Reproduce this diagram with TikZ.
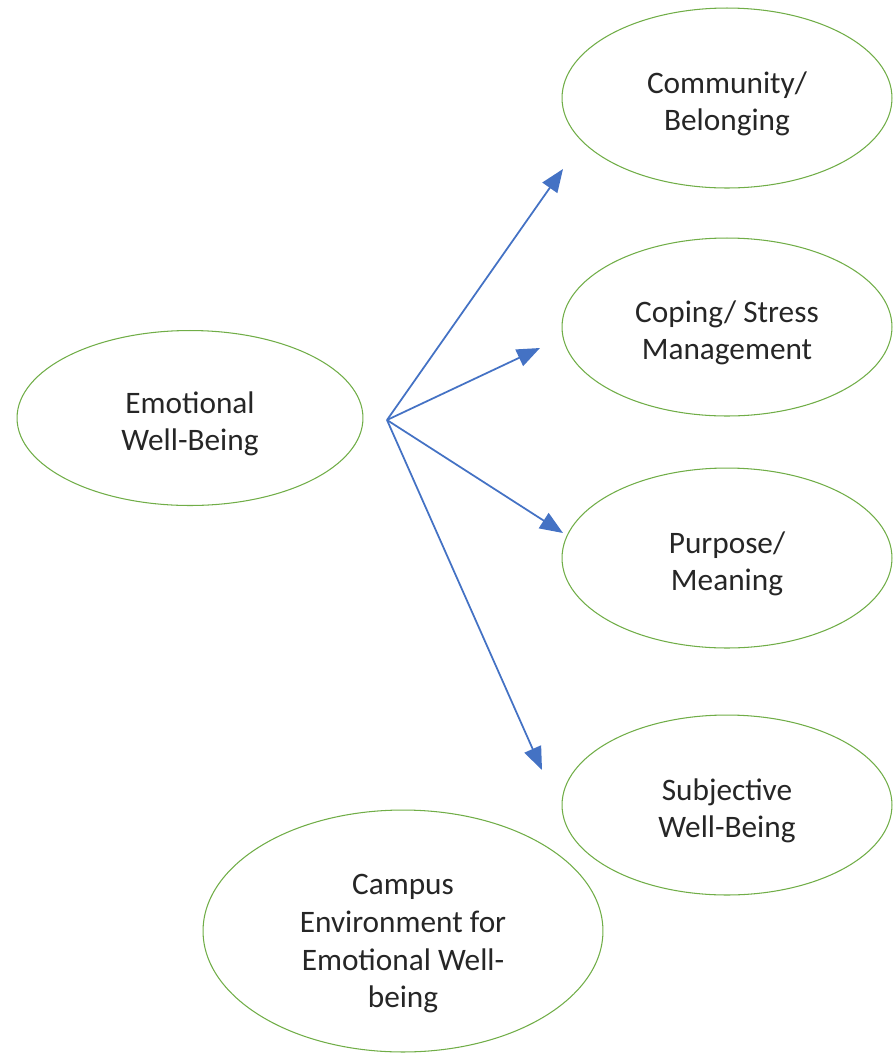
\documentclass[tikz,border=0pt]{standalone}
\usepackage{fontspec}
\setmainfont{Carlito}
\usetikzlibrary{shapes.geometric, arrows.meta}
\definecolor{ovalgreen}{HTML}{70AD47}
\definecolor{arrowblue}{HTML}{4472C4}
\newcommand{\textdrop}[1]{\rule{0pt}{#1}} % pushes the text of an oval a bit down

\begin{document}
\begin{tikzpicture}[
            x=0.02cm, y=-0.02cm, % one unit is one pixel, y downwards
            oval/.style={
                ellipse, % oval nodes
                draw=ovalgreen, % green border
                line width=0.6pt,
                inner sep=0,
                align=center,
                text=black!85,
                font=\fontsize{17.8}{21.5}\selectfont
            },
            link/.style={
                draw=arrowblue, % blue arrows
                line width=1pt,
                -{Triangle[length=0.46cm, width=0.36cm]}
            }
        ]
        \useasboundingbox (0,0) rectangle (894,1056);

        % the main oval on the left
        \node[oval, minimum width=6.92cm, minimum height=3.5cm] (emotional) at (190,418) {\textdrop{19pt}Emotional\\Well-Being};

        % the four ovals on the right
        \node[oval, minimum width=6.6cm, minimum height=3.6cm] (community) at (727,98) {\textdrop{19pt}Community/\\Belonging};
        \node[oval, minimum width=6.6cm, minimum height=3.56cm] (coping) at (727,327) {\textdrop{19pt}Coping/ Stress\\Management};
        \node[oval, minimum width=6.6cm, minimum height=3.6cm] (purpose) at (727,558) {\textdrop{19pt}Purpose/\\Meaning};
        \node[oval, minimum width=6.6cm, minimum height=3.6cm] (subjective) at (727,805) {\textdrop{19pt}Subjective\\Well-Being};

        % the oval at the bottom
        \node[oval, minimum width=8cm, minimum height=4.84cm] (campus) at (403,931) {\textdrop{26pt}Campus\\Environment for\\Emotional Well-\\being};

        % where the arrows start and end
        \coordinate (hub) at (387,420);
        \coordinate (tipcommunity) at (563,169);
        \coordinate (tipcoping) at (540,348);
        \coordinate (tippurpose) at (563,533);
        \coordinate (tipsubjective) at (542,770);

        \draw[link] (hub) -- (tipcommunity);
        \draw[link] (hub) -- (tipcoping);
        \draw[link] (hub) -- (tippurpose);
        \draw[link] (hub) -- (tipsubjective);
\end{tikzpicture}
\end{document}
